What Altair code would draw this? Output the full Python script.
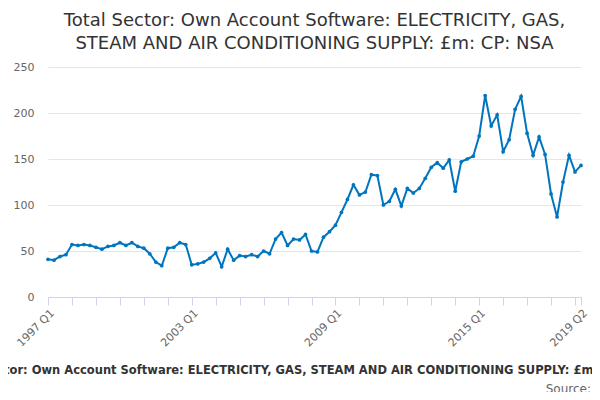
import altair as alt
import pandas as pd

years = list(range(1997, 2020))
values = [
    41, 40, 44, 46, 57, 56, 57, 56, 54, 52, 55, 56, 59, 56, 59, 55,
    53, 47, 38, 34, 53, 54, 59, 57, 35, 36, 38, 42, 48, 33, 52, 40,
    45, 44, 46, 44, 50, 47, 63, 70, 56, 63, 62, 68, 50, 49, 65, 71,
    78, 92, 106, 122, 111, 114, 133, 132, 100, 104, 117, 99, 118, 113, 118, 129,
    141, 146, 140, 149, 115, 147, 150, 153, 175, 219, 186, 198, 158, 171, 204, 218,
    178, 154, 174, 155, 112, 87, 125, 154, 136, 143,
]
labels = [f"{y} Q{q}" for y in years for q in range(1, 5)][: len(values)]
df = pd.DataFrame({"idx": range(len(values)), "period": labels, "value": values})

tick_vals = list(range(0, len(values), 4)) + [len(values) - 1]
shown = {0: "1997 Q1", 24: "2003 Q1", 48: "2009 Q1", 72: "2015 Q1", 89: "2019 Q2"}
label_expr = " : ".join(f"datum.value == {k} ? '{v}'" for k, v in shown.items()) + " : ''"

font = "DejaVu Sans"
line = alt.Chart(df).mark_line(
    color="#0075bf", strokeWidth=2, point=alt.OverlayMarkDef(color="#0075bf", size=14)
).encode(
    x=alt.X("idx:Q", scale=alt.Scale(domain=[0, 89], nice=False),
            axis=alt.Axis(values=tick_vals, labelExpr=label_expr, labelAngle=-45,
                          grid=False, title=None, tickColor="#ccd6eb", domainColor="#ccd6eb",
                          labelColor="#666", labelFontSize=11, labelFont=font, tickSize=8,
                          labelAlign="right", labelOverlap=False)),
    y=alt.Y("value:Q", scale=alt.Scale(domain=[0, 250]),
            axis=alt.Axis(values=[0, 50, 100, 150, 200, 250], title=None, domain=False, ticks=False,
                          gridColor="#e6e6e6", labelColor="#666", labelFontSize=11, labelFont=font,
                          labelPadding=14)),
    tooltip=["period", "value"],
)

caption = alt.Chart(pd.DataFrame({"t": ["Total Sector: Own Account Software: ELECTRICITY, GAS, STEAM AND AIR CONDITIONING SUPPLY: £m: CP: NSA"]})).mark_text(
    font=font, fontSize=11.5, fontWeight="bold", color="#333", align="center"
).encode(x=alt.value(252), y=alt.value(304), text="t:N")

source = alt.Chart(pd.DataFrame({"t": ["Source: "]})).mark_text(
    font=font, fontSize=12, color="#666", align="right"
).encode(x=alt.value(543), y=alt.value(322), text="t:N")

chart = (line + caption + source).properties(
    width=533, height=230,
    autosize=alt.AutoSizeParams(type="none"),
    padding={"left": 40, "top": 59, "right": 11, "bottom": 95},
    title=alt.TitleParams(
        ["Total Sector: Own Account Software: ELECTRICITY, GAS,",
         "STEAM AND AIR CONDITIONING SUPPLY: £m: CP: NSA"],
        font=font, fontSize=18, fontWeight="normal", color="#333", anchor="middle", offset=8,
        lineHeight=23,
    ),
).configure_view(stroke=None)

chart.save("out.html", embed_options={"renderer": "svg", "actions": False})
